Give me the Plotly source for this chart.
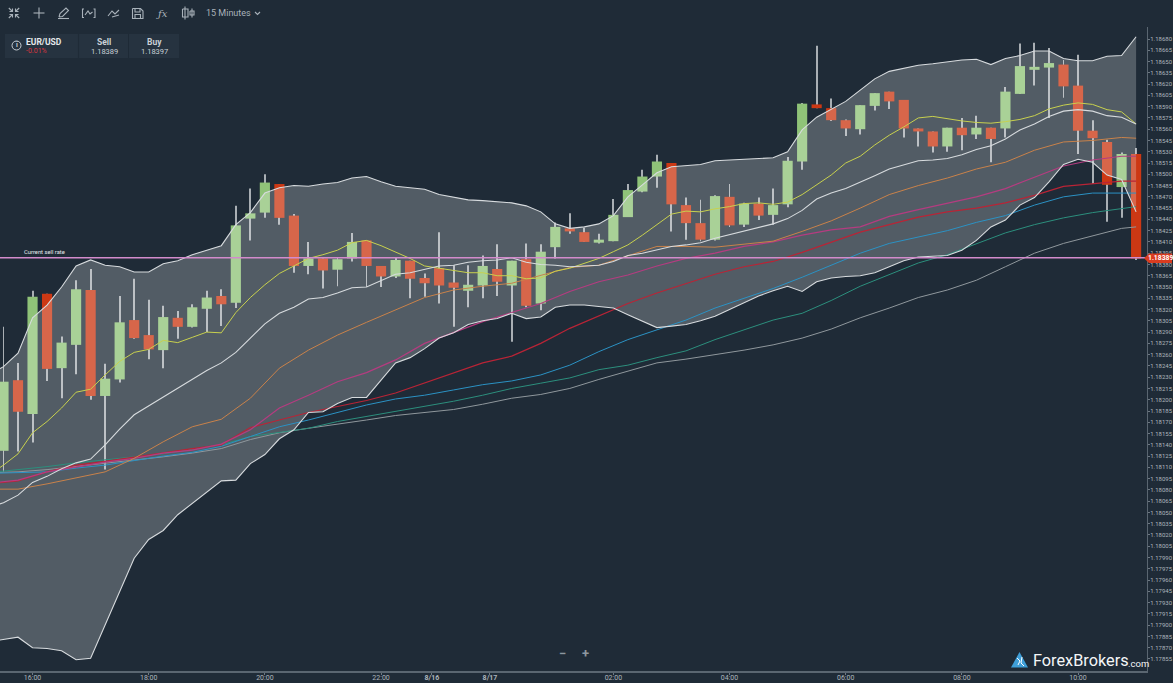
import plotly.graph_objects as go

# Prices are stored in points (1 point = 0.00001).
PT = 1e-5
opens = [118132,118226,118181,118341,118242,118273,118346,118205,118227,118306,118286,118266,118309,118297,118321,118338,118329,118441,118449,118487,118445,118378,118388,118373,118388,118412,118378,118364,118385,118362,118375,118356,118345,118352,118374,118352,118387,118328,118403,118428,118423,118409,118411,118443,118477,118497,118515,118459,118435,118413,118470,118433,118461,118446,118460,118517,118593,118588,118572,118560,118591,118610,118599,118561,118557,118537,118562,118553,118562,118561,118607,118639,118642,118646,118618,118558,118543,118483,118527]
highs = [118297,118249,118345,118341,118284,118359,118374,118248,118338,118361,118333,118325,118318,118327,118345,118347,118458,118481,118500,118487,118447,118410,118388,118389,118422,118412,118378,118389,118385,118368,118423,118379,118379,118392,118407,118385,118408,118407,118436,118448,118429,118421,118467,118487,118506,118526,118515,118469,118466,118472,118487,118462,118469,118481,118523,118595,118671,118601,118573,118592,118608,118610,118599,118561,118557,118562,118575,118578,118562,118616,118674,118675,118668,118652,118659,118572,118546,118529,118535]
lows = [118104,118131,118143,118225,118202,118234,118200,118107,118223,118281,118254,118242,118281,118296,118290,118298,118322,118412,118442,118433,118369,118367,118348,118351,118384,118350,118350,118362,118335,118337,118328,118297,118323,118335,118338,118277,118323,118319,118388,118421,118410,118408,118411,118443,118476,118482,118424,118413,118411,118412,118430,118430,118439,118433,118456,118506,118588,118571,118551,118553,118585,118587,118549,118537,118529,118530,118532,118547,118516,118549,118607,118618,118575,118602,118527,118487,118437,118442,118386]
closes = [118224,118184,118337,118241,118276,118347,118205,118228,118303,118282,118267,118310,118297,118323,118336,118327,118432,118448,118489,118442,118378,118388,118372,118387,118410,118378,118364,118386,118361,118355,118352,118349,118353,118378,118357,118385,118325,118397,118430,118424,118410,118413,118446,118479,118497,118517,118460,118435,118413,118471,118432,118461,118445,118459,118518,118594,118588,118572,118561,118592,118608,118597,118561,118557,118537,118562,118552,118562,118547,118610,118644,118643,118648,118617,118558,118548,118486,118527,118388]

band_upper = [118233,118244,118262,118309,118326,118350,118378,118386,118379,118377,118370,118370,118381,118385,118393,118399,118405,118433,118449,118475,118482,118485,118484,118487,118489,118495,118497,118490,118484,118482,118480,118473,118469,118466,118465,118463,118462,118458,118450,118434,118428,118430,118434,118445,118470,118486,118502,118510,118512,118513,118518,118519,118520,118521,118522,118530,118559,118576,118587,118597,118612,118627,118637,118641,118645,118647,118650,118652,118653,118646,118654,118658,118664,118664,118654,118651,118651,118657,118658,118683]
band_lower = [117878,117881,117884,117870,117869,117866,117854,117856,117900,117945,117989,118014,118026,118047,118062,118078,118092,118093,118115,118127,118148,118160,118183,118184,118195,118203,118203,118226,118249,118256,118268,118282,118289,118300,118305,118308,118315,118308,118310,118323,118326,118326,118324,118322,118313,118304,118296,118298,118300,118305,118311,118320,118329,118338,118345,118351,118344,118357,118362,118364,118365,118369,118377,118385,118390,118391,118392,118399,118412,118430,118439,118459,118469,118490,118513,118520,118516,118499,118493,118450]
band_mid = [118056,118063,118073,118090,118098,118108,118116,118121,118140,118161,118180,118192,118204,118216,118228,118239,118249,118263,118282,118301,118315,118323,118334,118336,118342,118349,118350,118358,118367,118369,118374,118378,118379,118383,118385,118386,118389,118383,118380,118379,118377,118378,118379,118384,118392,118395,118399,118404,118406,118409,118415,118420,118425,118430,118434,118441,118452,118467,118475,118481,118489,118498,118507,118513,118518,118519,118521,118526,118533,118538,118547,118559,118567,118577,118584,118586,118584,118578,118576,118567]
yellow = [118100,118113,118128,118156,118171,118189,118210,118214,118233,118251,118263,118267,118279,118276,118283,118290,118289,118316,118336,118353,118368,118378,118388,118393,118399,118409,118412,118405,118397,118388,118378,118375,118371,118369,118369,118365,118365,118361,118362,118371,118375,118382,118388,118397,118406,118419,118433,118447,118451,118450,118454,118457,118461,118462,118460,118463,118473,118486,118499,118515,118524,118539,118552,118563,118575,118577,118574,118571,118569,118568,118570,118573,118578,118587,118592,118595,118593,118586,118583,118567]
orange = [118081,118081,118088,118096,118104,118122,118144,118164,118174,118202,118242,118266,118286,118303,118320,118336,118346,118351,118355,118366,118376,118379,118391,118404,118404,118403,118407,118411,118424,118438,118455,118473,118485,118495,118507,118516,118532,118543,118545,118549,118548]
magenta = [118089,118093,118104,118111,118117,118122,118129,118133,118141,118160,118189,118206,118224,118236,118253,118275,118289,118304,118316,118328,118344,118357,118366,118378,118388,118395,118404,118410,118419,118426,118430,118444,118453,118461,118470,118481,118496,118511,118519,118524,118524]
red = [118088,118092,118104,118113,118118,118124,118129,118135,118140,118163,118173,118183,118191,118199,118209,118222,118235,118249,118258,118275,118295,118312,118328,118342,118355,118367,118377,118384,118396,118410,118423,118433,118443,118450,118455,118462,118472,118484,118487,118491,118491]
blue = [118102,118103,118104,118109,118113,118119,118125,118130,118138,118151,118164,118173,118183,118193,118201,118206,118213,118220,118225,118233,118246,118264,118280,118293,118306,118322,118335,118348,118363,118379,118395,118408,118416,118425,118436,118445,118459,118470,118475,118475,118475]
teal = [118103,118107,118111,118116,118120,118124,118128,118134,118140,118151,118157,118162,118171,118178,118184,118191,118198,118206,118215,118222,118229,118240,118246,118256,118265,118280,118293,118306,118315,118332,118351,118366,118382,118393,118408,118422,118433,118442,118449,118455,118457]
grey = [118103,118104,118107,118111,118115,118120,118124,118129,118135,118147,118156,118162,118167,118173,118179,118183,118187,118194,118202,118207,118215,118227,118238,118249,118254,118260,118266,118273,118282,118294,118309,118322,118336,118346,118359,118377,118395,118408,118418,118428,118430]

last_price = 118389
x_tick_positions = [2, 10, 18, 26, 29.5, 33.5, 42, 50, 58, 66, 74]
x_tick_labels = ["16:00", "18:00", "20:00", "22:00", "<b>8/16</b>", "<b>8/17</b>", "02:00", "04:00", "06:00", "08:00", "10:00"]
y_tick_points = list(range(117855, 118681, 15))

W, H = 1173, 683
ML, MR, MT, MB = 0, 26, 27, 12
BG = "#1f2b37"
ICON = "#a9b2ba"
FONT = "Roboto"

candle_x = list(range(len(opens)))
band_x = list(range(-1, 79))
ma_x = list(range(-1, 78, 2)) + [78]


def scaled(values):
    return [round(v * PT, 5) for v in values]


def px(x):
    return (x - ML) / (W - ML - MR)


def py(y):
    return 1 - (y - MT) / (H - MT - MB)


def path(points, close=False):
    s = "M " + " L ".join(f"{px(a):.5f},{py(b):.5f}" for a, b in points)
    return s + (" Z" if close else "")


fig = go.Figure()

# wicks, then bodies; the band fill is painted over them, the lines over the fill
fig.add_bar(x=candle_x, base=scaled(lows), y=[(h - l) * PT for h, l in zip(highs, lows)],
            width=0.065, marker=dict(color="#a9afb4", line_width=0), hoverinfo="skip", showlegend=False)
fig.add_bar(x=candle_x, base=[round(min(o, c) * PT, 5) for o, c in zip(opens, closes)],
            y=[abs(o - c) * PT for o, c in zip(opens, closes)], width=0.7,
            marker=dict(color=["#8fc378" if c >= o else "#cc3814" for o, c in zip(opens, closes)], line_width=0),
            hoverinfo="skip", showlegend=False)


def line(x, y, color, width=1.0, **kw):
    fig.add_scatter(x=x, y=scaled(y), mode="lines", line=dict(color=color, width=width, shape="linear"),
                    hoverinfo="skip", showlegend=False, **kw)


line(band_x, band_upper, "rgba(0,0,0,0)", 0)
line(band_x, band_lower, "rgba(0,0,0,0)", 0, fill="tonexty", fillcolor="rgba(255,255,255,0.23)")
line(ma_x, grey, "#8f979c")
line(ma_x, teal, "#2c8f7d")
line(ma_x, blue, "#2b92c4")
line(ma_x, red, "#b92436", 1.2)
line(ma_x, magenta, "#b53c80", 1.2)
line(ma_x, orange, "#c9824a")
line(band_x, yellow, "#c8d14e")
line(band_x, band_mid, "#d7dbde", 1.1)
line(band_x, band_upper, "#d7dbde", 1.1)
line(band_x, band_lower, "#d7dbde", 1.1)
fig.add_scatter(x=[-0.3, 78.75], y=[last_price * PT] * 2, mode="lines",
                line=dict(color="#d38bcc", width=1.6), hoverinfo="skip", showlegend=False)

shapes = []
ann = []


def stroke(points, color=ICON, width=1.1):
    shapes.append(dict(type="path", xref="paper", yref="paper", path=path(points),
                       line=dict(color=color, width=width), layer="above"))


def fill(points, color):
    shapes.append(dict(type="path", xref="paper", yref="paper", path=path(points, True),
                       fillcolor=color, line=dict(width=0), layer="above"))


def text(x, y, s, size, color, anchor="center", family=FONT):
    ann.append(dict(xref="paper", yref="paper", x=px(x), y=py(y), text=s, showarrow=False, xanchor=anchor,
                    yanchor="middle", font=dict(family=family, size=size, color=color),
                    borderpad=0, borderwidth=0))


# toolbar icons
for sx, sy in ((1, 1), (-1, 1), (1, -1), (-1, -1)):
    cx, cy = 14, 13
    stroke([(cx + sx * 5.2, cy + sy * 5), (cx + sx * 2, cy + sy * 2)])
    stroke([(cx + sx * 1.5, cy + sy * 4.5), (cx + sx * 1.5, cy + sy * 1.5), (cx + sx * 4.5, cy + sy * 1.5)])
stroke([(39, 7.5), (39, 18.5)])
stroke([(33.5, 13), (44.5, 13)])
stroke([(59, 17), (60, 13.5), (66, 8), (68.5, 10.5), (62.5, 16.5), (59, 17)])
stroke([(58, 18.5), (69, 18.5)])
stroke([(84, 9), (82.5, 9), (82.5, 17.5), (84, 17.5)])
stroke([(93.5, 9), (95, 9), (95, 17.5), (93.5, 17.5)])
stroke([(85, 15), (88, 11), (90, 14), (92.5, 12)])
stroke([(108, 16), (112, 11), (115, 14), (119, 10)])
stroke([(112, 17), (119, 15)])
stroke([(132.5, 8.5), (140.5, 8.5), (143, 11), (143, 18.5), (132.5, 18.5), (132.5, 8.5)])
stroke([(135, 8.5), (135, 12), (140, 12), (140, 8.5)])
stroke([(135, 18.5), (135, 14.5), (140.5, 14.5), (140.5, 18.5)])
text(162, 13.5, "<i>ƒx</i>", 10, ICON, family="DejaVu Serif")
stroke([(182.5, 9), (188, 9), (188, 17), (182.5, 17), (182.5, 9)])
stroke([(185, 6.5), (185, 19.5)])
stroke([(190, 11), (194, 11), (194, 15), (190, 15), (190, 11)])
stroke([(192, 8.5), (192, 17.5)])
text(206, 13.5, "15 Minutes", 9, ICON, "left")
stroke([(255, 12), (257.5, 14.5), (260, 12)])

# instrument panel
fill([(5, 34), (78, 34), (78, 58), (5, 58)], "#263340")
fill([(79, 34), (128, 34), (128, 58), (79, 58)], "#263340")
fill([(129, 34), (179, 34), (179, 58), (129, 58)], "#263340")
shapes.append(dict(type="circle", xref="paper", yref="paper", x0=px(12), x1=px(21), y0=py(41), y1=py(50),
                   line=dict(color="#c7ced4", width=1), layer="above"))
text(16.5, 45.5, "<b>i</b>", 7, "#c7ced4")
text(26, 42.5, "<b>EUR/USD</b>", 8.5, "#e4e8eb", "left")
text(26, 51, "-0.01%", 7, "#d8353f", "left")
text(104, 42.5, "<b>Sell</b>", 8.5, "#c9d0d6")
text(104, 51.5, "1.18389", 7.5, "#c9d0d6")
text(154, 42.5, "<b>Buy</b>", 8.5, "#c9d0d6")
text(154, 51.5, "1.18397", 7.5, "#c9d0d6")

# current price marks
text(24, 252, "Current sell rate", 5.8, "#e6e9ec", "left")
fill([(1144, 258.3), (1149, 253.5), (1172, 253.5), (1172, 263), (1149, 263)], "#d93c20")
text(1160, 258.3, "<b>1.18389</b>", 6.8, "#ffffff")

# zoom controls
text(562.5, 653, "<b>−</b>", 13, "#8d979f")
text(585.5, 653, "<b>+</b>", 13, "#8d979f")

# watermark
fill([(1019.5, 652), (1028, 667.5), (1011, 667.5)], "#3f9fd8")
stroke([(1017, 658), (1020, 661), (1018, 665)], "#ffffff", 1)
stroke([(1022, 657), (1021, 663), (1024, 666)], "#ffffff", 1)
text(1033, 660.5, "ForexBrokers", 16.3, "#f4f6f7", "left")
text(1128, 663.5, ".com", 9.5, "#f4f6f7", "left")

fig.update_layout(
    width=W, height=H, autosize=False, margin=dict(l=ML, r=MR, t=MT, b=MB, pad=0),
    paper_bgcolor=BG, plot_bgcolor=BG, barmode="overlay", showlegend=False, hovermode=False,
    font=dict(family=FONT, color="#aeb6bd"), shapes=shapes, annotations=ann,
    xaxis=dict(range=[-0.241, 78.75], tickmode="array", tickvals=x_tick_positions, ticktext=x_tick_labels,
               ticks="outside", ticklen=2, tickcolor="#6c7781", tickfont=dict(size=7, color="#aeb6bd"),
               ticklabelstandoff=-3,
               automargin=False, showgrid=False, zeroline=False, showline=True, linecolor="#5a6671", linewidth=2,
               fixedrange=True),
    yaxis=dict(side="right", range=[1.17839, 1.18696], tickmode="array", tickvals=scaled(y_tick_points),
               tickformat=".5f", ticks="outside", ticklen=2, tickcolor="#6c7781", tickfont=dict(size=6, color="#aeb6bd"),
               ticklabelstandoff=-1,
               automargin=False, showgrid=False, zeroline=False, showline=True, linecolor="#5a6671", linewidth=1,
               fixedrange=True),
)

fig.write_html("out.html", config={"displayModeBar": False},
               post_script="document.body.style.margin='0';document.documentElement.style.overflow='hidden';")
